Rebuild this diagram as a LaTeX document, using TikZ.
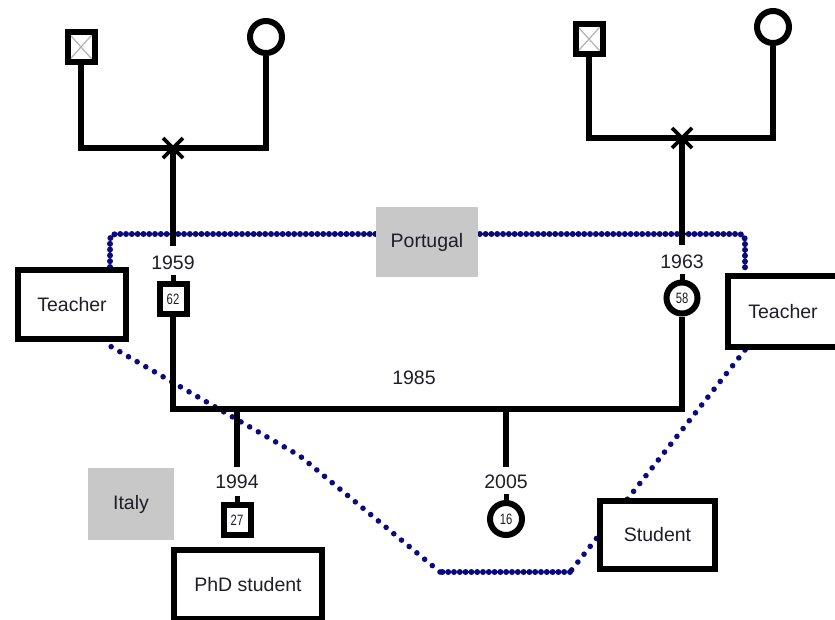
\documentclass[tikz,border=0pt]{standalone}
\usepackage{fontspec}
\setmainfont{Liberation Sans}
\usetikzlibrary{calc}
\definecolor{dotblue}{RGB}{10,10,128}
\definecolor{boxgray}{RGB}{200,200,200}
\definecolor{txt}{RGB}{30,30,40}
\begin{document}
\begin{tikzpicture}[x=1pt,y=-1pt,
  lbl/.style={font=\fontsize{19.5}{22}\selectfont, text=txt, inner sep=0pt},
  role/.style={draw, line width=6pt, fill=white, inner sep=0pt, font=\fontsize{19.5}{22}\selectfont, text=txt},
  place/.style={fill=boxgray, inner sep=0pt, font=\fontsize{19.5}{22}\selectfont, text=txt},
  male/.style={draw, line width=6pt, fill=white, minimum width=27pt, minimum height=30pt, inner sep=0pt, font=\fontsize{15}{16}\selectfont, text=txt},
  female/.style={draw, circle, line width=6pt, fill=white, minimum size=32pt, inner sep=0pt, font=\fontsize{15}{16}\selectfont, text=txt},
  dead/.style={male, path picture={\draw[gray!60, line width=1.2pt] (path picture bounding box.north west) -- (path picture bounding box.south east) (path picture bounding box.north east) -- (path picture bounding box.south west);}},
  kin/.style={line width=6pt},
  densedots/.style={dotblue, line width=6pt, line cap=round, dash pattern=on 0pt off 5.8pt, rounded corners=6pt},
  sparsedots/.style={dotblue, line width=5.6pt, line cap=round, dash pattern=on 0pt off 10pt},
  xmark/.style={line width=3.6pt}
]
\useasboundingbox (0,0) rectangle (835,619);

% ---- dotted boundary (drawn first, under everything)
\coordinate (dA) at (110,267);
\coordinate (dB) at (110,234);
\coordinate (dC) at (745,234);
\coordinate (dD) at (745,273);
\coordinate (dE) at (745,350);
\coordinate (dF) at (570,572);
\coordinate (dG) at (440,572);
\coordinate (dH) at (300,456);
\coordinate (dI) at (110,346);
\draw[densedots] (dA) -- (dB) -- (dC) -- (dD);
\draw[densedots] (dF) -- (dG);
\draw[sparsedots] (dE) -- (dF);
\draw[sparsedots] (dG) -- (dH) -- (dI);

% ---- place labels
\node[place, minimum width=102pt, minimum height=70pt] (portugal) at (427,242) {Portugal};
\node[place, minimum width=86pt, minimum height=72pt] (italy) at (131,504) {Italy};

% ---- role boxes
\node[role, minimum width=108pt, minimum height=69pt] (teachL) at (72,304.5) {Teacher};
\node[role, minimum width=110pt, minimum height=71pt] (teachR) at (783,311.5) {Teacher};
\node[role, minimum width=115pt, minimum height=68pt] (student) at (657.5,535) {Student};
\node[role, minimum width=148pt, minimum height=69pt] (phd) at (248,584.5) {PhD student};

% ---- left grandparents
\coordinate (mL) at (173,148);
\coordinate (eL) at (173,246);
\node[dead] (gfL) at (81,47) {};
\node[female] (gmL) at (266,37) {};
\draw[kin] (gfL.south) |- (mL) -| (gmL.south);
\draw[kin] (mL) -- (eL);
\draw[xmark] ($(mL)+(-10,-10)$) -- ($(mL)+(10,10)$) ($(mL)+(10,-10)$) -- ($(mL)+(-10,10)$);

% ---- right grandparents
\coordinate (mR) at (682,138);
\coordinate (eR) at (682,245);
\node[dead] (gfR) at (589,39) {};
\node[female] (gmR) at (773,27) {};
\draw[kin] (gfR.south) |- (mR) -| (gmR.south);
\draw[kin] (mR) -- (eR);
\draw[xmark] ($(mR)+(-10,-10)$) -- ($(mR)+(10,10)$) ($(mR)+(10,-10)$) -- ($(mR)+(-10,10)$);

% ---- parents
\node[lbl] (y1959) at (173,263) {1959};
\node[lbl] (y1963) at (682,262) {1963};
\node[male] (father) at (173,299) {\scalebox{0.75}[1]{62}};
\node[female, minimum size=31pt] (mother) at (682,298) {\scalebox{0.75}[1]{58}};
\draw[line width=5pt] (father.north) -- ++(0,-6);
\draw[line width=5pt] (mother.north) -- ++(0,-6);

\coordinate (fm) at (173,409);
\coordinate (mm) at (682,409);
\draw[kin, line join=miter] (father.south) -- (fm) -- (mm) -- (mother.south);
\node[lbl] (y1985) at (414,378) {1985};

% ---- children
\coordinate (c1) at (237,409);
\coordinate (c1e) at (237,467);
\coordinate (c2) at (506,409);
\coordinate (c2e) at (506,467);
\draw[line width=5.5pt] (c1) -- (c1e);
\draw[line width=6pt] (c2) -- (c2e);
\node[lbl] (y1994) at (237,482) {1994};
\node[lbl] (y2005) at (506,482) {2005};
\node[male] (son) at (237,520) {\scalebox{0.75}[1]{27}};
\node[female] (daughter) at (506,519) {\scalebox{0.75}[1]{16}};
\draw[line width=5pt] (son.north) -- ++(0,-6);
\draw[line width=5pt] (daughter.north) -- ++(0,-6);
\end{tikzpicture}
\end{document}
